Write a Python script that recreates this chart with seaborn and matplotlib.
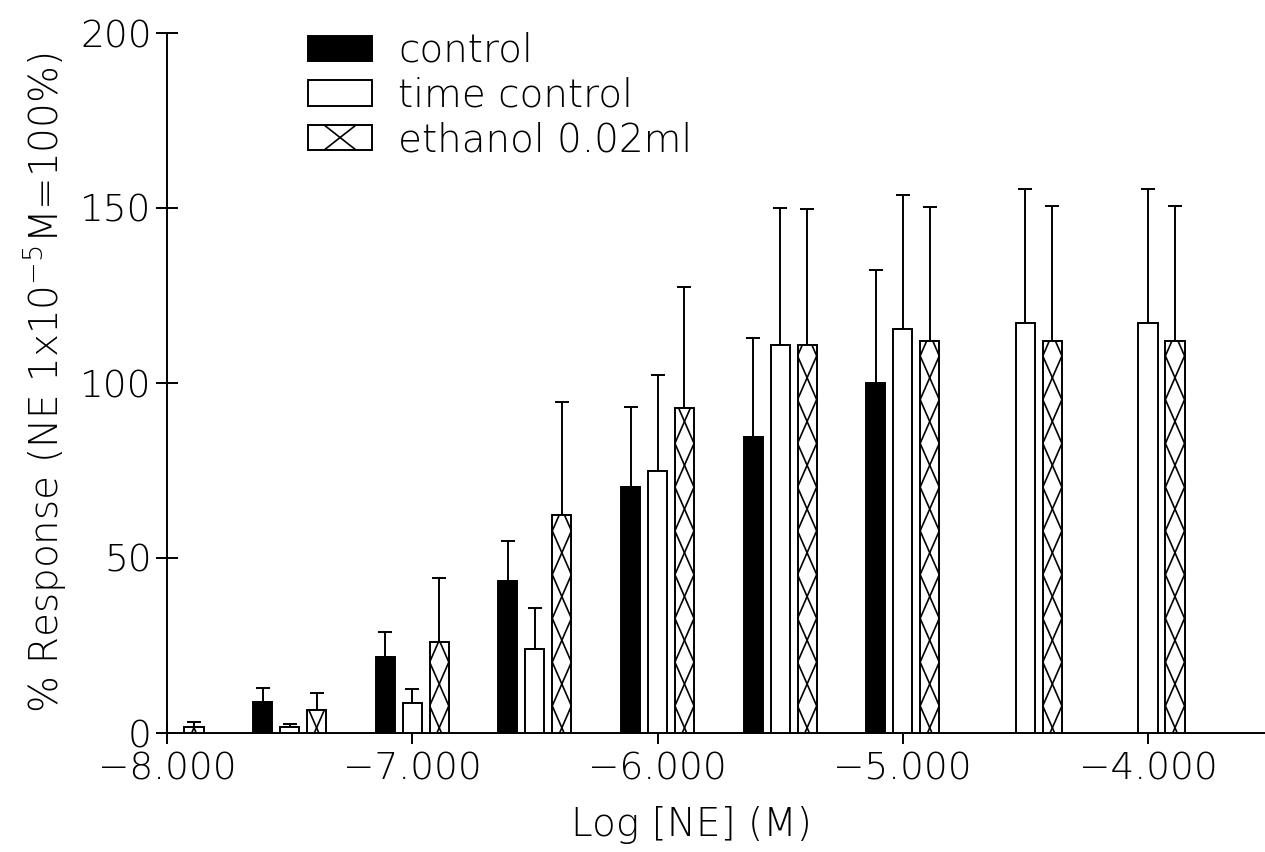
import numpy as np
import pandas as pd
import matplotlib
matplotlib.use("Agg")
import matplotlib.pyplot as plt
from matplotlib import font_manager as fm
from matplotlib.patches import Rectangle
from matplotlib.lines import Line2D
from matplotlib.legend_handler import HandlerPatch
import seaborn as sns

# Log molar concentration of norepinephrine
log_conc = [-8.0, -7.5, -7.0, -6.5, -6.0, -5.5, -5.0, -4.5, -4.0]

# Mean % response and SEM per group
control = [np.nan, 8.9, 21.6, 43.4, 70.3, 84.7, 100.0, np.nan, np.nan]
control_sem = [np.nan, 4.0, 7.3, 11.4, 22.8, 28.2, 32.4, np.nan, np.nan]
time_control = [0.0, 1.8, 8.7, 24.1, 74.8, 110.9, 115.5, 117.2, 117.2]
time_control_sem = [0.0, 0.8, 3.8, 11.6, 27.4, 39.2, 38.3, 38.3, 38.3]
ethanol = [1.7, 6.6, 25.9, 62.3, 92.9, 110.9, 111.9, 112.1, 112.1]
ethanol_sem = [1.5, 4.9, 18.3, 32.4, 34.4, 38.9, 38.5, 38.5, 38.5]

series_names = ["control", "time control", "ethanol 0.02ml"]
series_colors = ["black", "white", "white"]
y_ticks = [0, 50, 100, 150, 200]
x_ticks = [-8, -7, -6, -5, -4]
x_tick_labels = ["\u22128.000", "\u22127.000", "\u22126.000", "\u22125.000", "\u22124.000"]


def pick_family():
    """Prefer a thin-stroked face when one is installed."""
    for fam in ["DejaVu Sans", "Open Sans", "Lato", "Roboto", "Inter", "Noto Sans"]:
        for f in fm.fontManager.ttflist:
            w = f.weight
            if isinstance(w, str):
                w = fm.weight_dict.get(w, 400)
            if f.name == fam and w <= 300:
                return fam, w
    return "DejaVu Sans", 400


sns.set_style("ticks")
family, weight = pick_family()
plt.rcParams["font.family"] = [family, "DejaVu Sans"]
plt.rcParams["font.weight"] = weight
plt.rcParams["axes.labelweight"] = weight
plt.rcParams["mathtext.fontset"] = "custom"
plt.rcParams["mathtext.rm"] = f"{family}:weight={weight}"
plt.rcParams["mathtext.it"] = f"{family}:weight={weight}"
plt.rcParams["axes.unicode_minus"] = True
for key in ["text.color", "axes.labelcolor", "xtick.color", "ytick.color",
            "xtick.labelcolor", "ytick.labelcolor"]:
    plt.rcParams[key] = "black"

rows = []
for name, vals, sems in zip(series_names,
                            [control, time_control, ethanol],
                            [control_sem, time_control_sem, ethanol_sem]):
    for c, v, s in zip(log_conc, vals, sems):
        if np.isfinite(v):
            rows.append({"log_conc": c, "response": v, "sem": s, "series": name})
df = pd.DataFrame(rows)

fig = plt.figure(figsize=(12.65, 8.52), dpi=100)
ax = fig.add_axes([167 / 1265, 119 / 852, 1 - 167 / 1265, 700 / 852])

lw = 1.4
sns.barplot(data=df, x="log_conc", y="response", hue="series",
            hue_order=series_names, palette=dict(zip(series_names, series_colors)),
            native_scale=True, orient="x", width=0.66, gap=0.29,
            errorbar=None, saturation=1, edgecolor="black", linewidth=lw,
            legend=False, ax=ax, zorder=3)

bar_containers = list(ax.containers)

# Upper SEM whiskers
sem_lookup = {name: dict(zip(log_conc, sems)) for name, sems in
              zip(series_names, [control_sem, time_control_sem, ethanol_sem])}
for name, container in zip(series_names, bar_containers):
    for bar in container:
        xc = bar.get_x() + bar.get_width() / 2
        h = bar.get_height()
        c = round(xc * 2) / 2
        s = sem_lookup[name].get(c, np.nan)
        if np.isfinite(s) and s > 0:
            ax.errorbar(xc, h, yerr=[[0], [s]], fmt="none", ecolor="black",
                        elinewidth=lw, capsize=5, capthick=lw, zorder=2)

# Lattice pattern inside the ethanol bars
period = 12.5
for bar in bar_containers[2]:
    x0, w, h = bar.get_x(), bar.get_width(), bar.get_height()
    xc = x0 + w / 2
    k = np.arange(-2, int(h / (period / 2)) + 4)
    ys = 1.5 + k * period / 2
    phase = np.array([0, 1, 0, -1])[k % 4]
    for sign in (1, -1):
        ln = Line2D(xc + sign * phase * w / 2, ys, color="black", lw=1.2, zorder=4)
        ax.add_line(ln)
        ln.set_clip_path(bar)

ax.set_xlim(-8, -8 + 1098 / 245.25)
ax.set_ylim(0, 200)
ax.set_xticks(x_ticks)
ax.set_xticklabels(x_tick_labels)
ax.set_yticks(y_ticks)
ax.tick_params(axis="both", direction="inout", length=16, width=lw,
               labelsize=27, colors="black", pad=3)
ax.tick_params(axis="x", pad=5)
for side in ["top", "right"]:
    ax.spines[side].set_visible(False)
for side in ["left", "bottom"]:
    ax.spines[side].set_linewidth(lw)
    ax.spines[side].set_color("black")

ax.set_xlabel("Log [NE] (M)", fontsize=28)
ax.set_ylabel(r"% Response (NE 1x10$^{-5}$M=100%)", fontsize=28)
ax.xaxis.set_label_coords(0.478, -0.104)
ax.yaxis.set_label_coords(-0.09, 0.5)


class HandlerCrossBox(HandlerPatch):
    def create_artists(self, legend, orig_handle, xdescent, ydescent,
                       width, height, fontsize, trans):
        x0, y0 = -xdescent, -ydescent
        box = Rectangle((x0, y0), width, height, facecolor="white",
                        edgecolor="black", lw=lw, transform=trans)
        cx = x0 + width / 2
        half = width * 0.25
        l1 = Line2D([cx - half, cx + half], [y0, y0 + height], color="black", lw=1.2, transform=trans)
        l2 = Line2D([cx - half, cx + half], [y0 + height, y0], color="black", lw=1.2, transform=trans)
        return [box, l1, l2]


handles = [Rectangle((0, 0), 1, 1, facecolor=c, edgecolor="black", lw=lw)
           for c in series_colors]
fig.legend(handles, series_names, loc="upper left",
           bbox_to_anchor=(308 / 1265, 1 - 32 / 852), frameon=False,
           fontsize=28, handlelength=1.65, handleheight=0.62, handletextpad=0.67,
           labelspacing=0.17, borderpad=0, borderaxespad=0,
           handler_map={handles[2]: HandlerCrossBox()})

fig.savefig("out.png", dpi=100, facecolor="white")
